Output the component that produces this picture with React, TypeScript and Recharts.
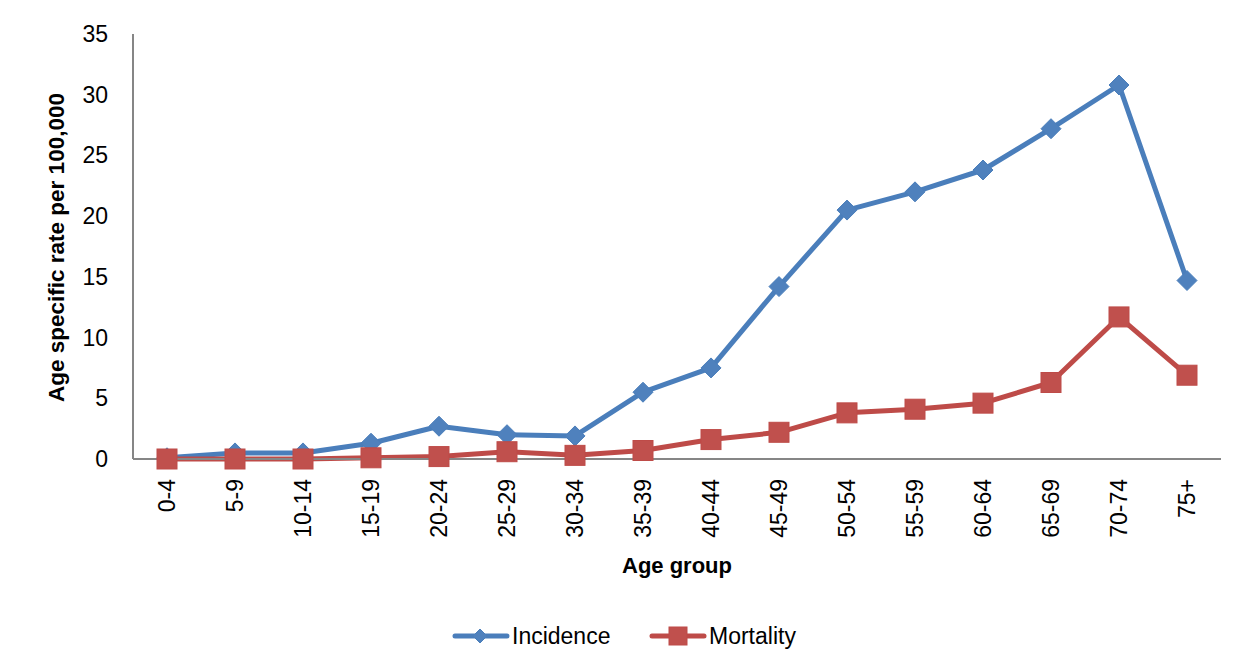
import React from "react";
import { LineChart, Line, XAxis, YAxis, Label, Customized } from "recharts";

const ageGroups = ["0-4", "5-9", "10-14", "15-19", "20-24", "25-29", "30-34", "35-39", "40-44", "45-49", "50-54", "55-59", "60-64", "65-69", "70-74", "75+"];
const incidence = [0.1, 0.5, 0.5, 1.3, 2.7, 2.0, 1.9, 5.5, 7.5, 14.2, 20.5, 22.0, 23.8, 27.2, 30.8, 14.7];
const mortality = [0.0, 0.0, 0.0, 0.1, 0.2, 0.6, 0.3, 0.7, 1.6, 2.2, 3.8, 4.1, 4.6, 6.3, 11.7, 6.9];
const yTicks = [0, 5, 10, 15, 20, 25, 30, 35];

const data = ageGroups.map((g, i) => ({ group: g, Incidence: incidence[i], Mortality: mortality[i] }));

const FONT = "'Liberation Sans', Arial, sans-serif";
const BLUE = "#4A7EBB";
const BLUE_FILL = "#4F81BD";
const RED = "#BE4B48";
const RED_FILL = "#C0504D";

const Diamond = (props: any) => {
  const { cx, cy } = props;
  if (cx == null || cy == null) return null;
  const r = 10;
  return <path d={`M${cx},${cy - r}L${cx + r},${cy}L${cx},${cy + r}L${cx - r},${cy}Z`} fill={BLUE_FILL} stroke={BLUE} strokeWidth={1} />;
};

const Square = (props: any) => {
  const { cx, cy } = props;
  if (cx == null || cy == null) return null;
  const h = 10;
  return <rect x={cx - h} y={cy - h} width={2 * h} height={2 * h} fill={RED_FILL} stroke={RED} strokeWidth={1} />;
};

const XTick = (props: any) => {
  const { x, y, payload } = props;
  const ty = y + 18;
  return (
    <text x={x} y={ty} transform={`rotate(-90, ${x}, ${ty})`} textAnchor="end" dominantBaseline="central" fontFamily={FONT} fontSize={23} fill="#000">
      {payload.value}
    </text>
  );
};

const YTick = (props: any) => {
  const { x, y, payload } = props;
  return (
    <text x={x} y={y} textAnchor="end" dominantBaseline="central" fontFamily={FONT} fontSize={23} fill="#000">
      {payload.value}
    </text>
  );
};

const Frame = () => (
  <g>
    <line x1={7} y1={6} x2={1252} y2={6} stroke="#888888" strokeWidth={2} />
    <line x1={7} y1={6} x2={7} y2={672} stroke="#888888" strokeWidth={2} />
    <line x1={1252} y1={6} x2={1252} y2={672} stroke="#888888" strokeWidth={2} />
  </g>
);

export default function App() {
  return (
    <div style={{ position: "relative", width: 1255, height: 672, margin: "-8px 0 0 -8px", background: "#fff", overflow: "hidden" }}>
      <div style={{ position: "absolute", left: 0, top: 0 }}>
        <LineChart width={1255} height={672} data={data} margin={{ top: 34, right: 34, left: 73, bottom: 153 }}>
          <Customized component={Frame} />
          <XAxis
            dataKey="group"
            height={60}
            interval={0}
            padding={{ left: 34, right: 34 }}
            tickSize={0}
            tickLine={false}
            tick={<XTick />}
            axisLine={{ stroke: "#868686", strokeWidth: 2 }}
          >
            <Label
              content={(p: any) => {
                const vb = p.viewBox || { x: 133, y: 459, width: 1088 };
                return (
                  <text x={vb.x + vb.width / 2} y={vb.y + 114} textAnchor="middle" fontFamily={FONT} fontSize={22} fontWeight="bold" fill="#000">
                    Age group
                  </text>
                );
              }}
            />
          </XAxis>
          <YAxis
            width={60}
            domain={[0, 35]}
            ticks={yTicks}
            interval={0}
            tickSize={0}
            tickMargin={25}
            tickLine={false}
            tick={<YTick />}
            axisLine={{ stroke: "#868686", strokeWidth: 2 }}
          >
            <Label
              content={(p: any) => {
                const vb = p.viewBox || { x: 73, y: 34, height: 425 };
                const cx = 64;
                const cy = vb.y + vb.height / 2 + 1;
                return (
                  <text x={cx} y={cy} transform={`rotate(-90, ${cx}, ${cy})`} textAnchor="middle" fontFamily={FONT} fontSize={22.5} fontWeight="bold" fill="#000">
                    Age specific rate per 100,000
                  </text>
                );
              }}
            />
          </YAxis>
          <Line dataKey="Incidence" stroke={BLUE} strokeWidth={5} dot={<Diamond />} activeDot={false} isAnimationActive={false} strokeLinejoin="round" />
          <Line dataKey="Mortality" stroke={RED} strokeWidth={5} dot={<Square />} activeDot={false} isAnimationActive={false} strokeLinejoin="round" />
        </LineChart>
      </div>
      <svg style={{ position: "absolute", left: 0, top: 0, pointerEvents: "none" }} width={1255} height={672}>
        <line x1={455} y1={636} x2={507} y2={636} stroke={BLUE} strokeWidth={5} strokeLinecap="round" />
        <path d="M480,629L487,636L480,643L473,636Z" fill={BLUE_FILL} stroke={BLUE} />
        <text x={512} y={644} fontFamily={FONT} fontSize={23} fill="#000">Incidence</text>
        <line x1={652} y1={636} x2={704} y2={636} stroke={RED} strokeWidth={5} strokeLinecap="round" />
        <rect x={669} y={627} width={18} height={18} fill={RED_FILL} stroke={RED} />
        <text x={709} y={644} fontFamily={FONT} fontSize={23} fill="#000">Mortality</text>
      </svg>
    </div>
  );
}
